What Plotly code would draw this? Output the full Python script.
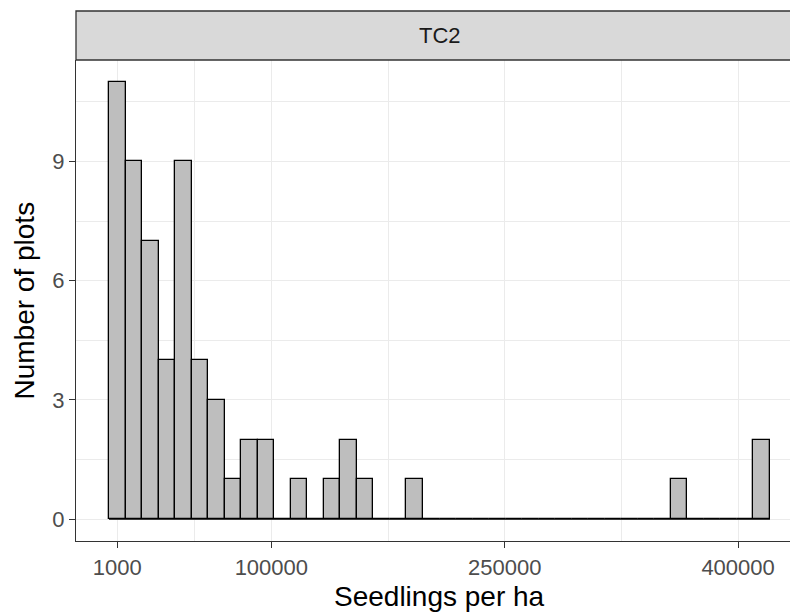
import plotly.graph_objects as go

# ---- data ----
counts = [11, 9, 7, 4, 9, 4, 3, 1, 2, 2,
          0, 1, 0, 1, 2, 1, 0, 0, 1, 0,
          0, 0, 0, 0, 0, 0, 0, 0, 0, 0,
          0, 0, 0, 0, 1, 0, 0, 0, 0, 2]
first_bin_center = 1000
bin_width = 10620
x_breaks = [1000, 100000, 250000, 400000]
x_labels = ["1000", "100000", "250000", "400000"]
y_breaks = [0, 3, 6, 9]
y_labels = ["0", "3", "6", "9"]
facet_label = "TC2"
x_title = "Seedlings per ha"
y_title = "Number of plots"

# ---- derived ----
centers = [first_bin_center + i * bin_width for i in range(len(counts))]
left_edge = centers[0] - bin_width / 2
right_edge = centers[-1] + bin_width / 2
span = right_edge - left_edge
xlo, xhi = left_edge - 0.05 * span, right_edge + 0.05 * span
ymax = max(counts)
ylo, yhi = -0.05 * ymax, ymax * 1.05

W, H = 790, 615
ML, MT, MB = 76, 60, 74
panel_right_px = 803  # panel extends past the right edge of the picture
x_visible_hi = xlo + (xhi - xlo) * (W - ML) / (panel_right_px - ML)
plot_h = H - MT - MB

x_minor = [(a + b) / 2 for a, b in zip(x_breaks[:-1], x_breaks[1:])]
ystep = y_breaks[1] - y_breaks[0]
y_minor = [b + ystep / 2 for b in y_breaks if b + ystep / 2 <= yhi]

GRID = "#EBEBEB"
DARK = "#333333"
FONT = "Liberation Sans, Arial, Helvetica, sans-serif"

fig = go.Figure()
fig.add_trace(go.Scatter(
    x=[left_edge, right_edge], y=[0, 0], mode="lines",
    line=dict(color="black", width=1.3), hoverinfo="skip", showlegend=False))
fig.add_trace(go.Bar(
    x=centers, y=counts, width=bin_width,
    marker=dict(color="#BEBEBE", line=dict(color="black", width=1.3)),
    showlegend=False))

fig.update_layout(
    width=W, height=H,
    margin=dict(l=ML, r=0, t=MT, b=MB, pad=0),
    paper_bgcolor="white", plot_bgcolor="white",
    font=dict(family=FONT),
    bargap=0,
    xaxis=dict(
        range=[xlo, x_visible_hi], tickmode="array",
        tickvals=x_breaks, ticktext=x_labels,
        showgrid=True, gridcolor=GRID, gridwidth=1.4,
        minor=dict(tickmode="array", tickvals=x_minor, showgrid=True,
                   gridcolor=GRID, gridwidth=0.7, ticks=""),
        zeroline=False, showline=True, linecolor=DARK, linewidth=1.3,
        ticks="outside", ticklen=6, tickwidth=1.3, tickcolor=DARK,
        tickfont=dict(size=22, color="#4D4D4D", family=FONT),
    ),
    yaxis=dict(
        range=[ylo, yhi], tickmode="array",
        tickvals=y_breaks, ticktext=y_labels,
        showgrid=True, gridcolor=GRID, gridwidth=1.4,
        minor=dict(tickmode="array", tickvals=y_minor, showgrid=True,
                   gridcolor=GRID, gridwidth=0.7, ticks=""),
        zeroline=False, showline=True, linecolor=DARK, linewidth=1.3,
        ticks="outside", ticklen=6, tickwidth=1.3, tickcolor=DARK,
        tickfont=dict(size=22, color="#4D4D4D", family=FONT),
    ),
)

# facet strip
strip_h = 49
fig.add_shape(type="rect", xref="paper", yref="paper",
              x0=0, x1=1.05, y0=1, y1=1 + strip_h / plot_h,
              fillcolor="#D9D9D9", line=dict(color=DARK, width=1.3), layer="above")
fig.add_annotation(text=facet_label, xref="x", yref="paper",
                   x=(xlo + xhi) / 2, y=1 + strip_h / 2 / plot_h,
                   showarrow=False, xanchor="center", yanchor="middle",
                   font=dict(size=22, color="#1A1A1A", family=FONT))

# axis titles
fig.add_annotation(text=x_title, xref="x", yref="paper",
                   x=(xlo + xhi) / 2, y=-(596 - (H - MB)) / plot_h,
                   showarrow=False, xanchor="center", yanchor="middle",
                   font=dict(size=28, color="black", family=FONT))
fig.add_annotation(text=y_title, xref="paper", yref="paper",
                   x=(24 - ML) / (W - ML), y=0.5, textangle=-90,
                   showarrow=False, xanchor="center", yanchor="middle",
                   font=dict(size=28, color="black", family=FONT))

fig.write_html("out.html")
